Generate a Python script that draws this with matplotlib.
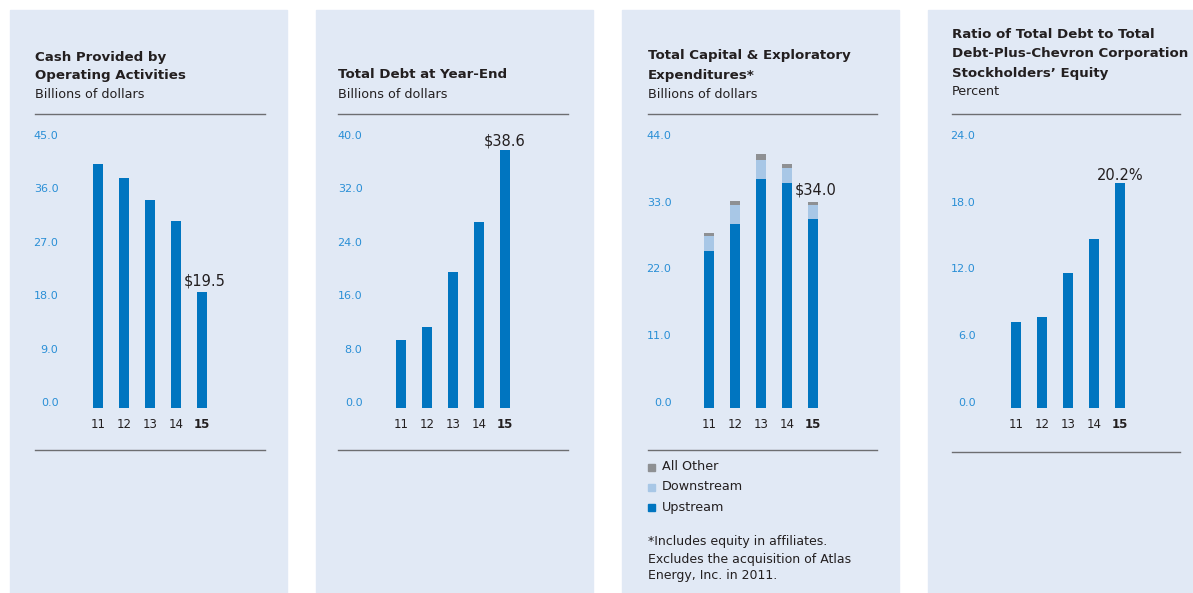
import matplotlib.pyplot as plt
from matplotlib.patches import Rectangle
from matplotlib.lines import Line2D

years = ['11', '12', '13', '14', '15']
cash_ops = [41.1, 38.8, 35.0, 31.5, 19.5]
total_debt = [10.2, 12.2, 20.4, 27.8, 38.6]
upstream = [25.8, 30.3, 37.8, 37.0, 31.1]
downstream = [2.6, 3.2, 3.1, 2.5, 2.3]
all_other = [0.5, 0.6, 0.9, 0.7, 0.6]
debt_ratio = [7.7, 8.2, 12.1, 15.2, 20.2]

W, H = 1193, 593
BG = '#e1e9f5'
BLUE = '#0075c0'
LIGHT = '#a8c7e6'
GREY = '#8e9093'
TICK = '#2a8fd6'
DARK = '#231f20'
RULE = '#6d6e71'
FONT = 'DejaVu Sans'

fig = plt.figure(figsize=(W / 100, H / 100), dpi=100)


def fx(x):
    return x / W


def fy(y):
    return 1 - y / H


def panel(x0, x1):
    fig.patches.append(Rectangle((fx(x0), 0), fx(x1) - fx(x0), fy(10),
                                 transform=fig.transFigure, color=BG, zorder=0))


def rule(x0, x1, y):
    fig.add_artist(Line2D([fx(x0), fx(x1)], [fy(y), fy(y)], color=RULE, lw=1.0))


def text(x, y, s, size=9.6, weight='normal', **kw):
    fig.text(fx(x), fy(y), s, fontsize=size, fontweight=weight, color=DARK,
             family=FONT, va='center', **kw)


def make_ax(first_bar, label_right, ymax, ticks):
    # bars are 26 px apart, baseline at y=408, top tick value at y=141
    left = label_right + 4
    right = first_bar + 26 * 4 + 40
    ax = fig.add_axes([fx(left), fy(408), fx(right) - fx(left), fy(141) - fy(408)])
    ax.set_zorder(2)
    ax.set_xlim((left - first_bar) / 26, (right - first_bar) / 26)
    ax.set_ylim(0, ymax)
    ax.patch.set_alpha(0)
    for s in ax.spines.values():
        s.set_visible(False)
    ax.set_yticks(ticks, [f'{t:.1f}' for t in ticks])
    ax.set_xticks(range(len(years)), years)
    ax.tick_params(length=0)
    ax.tick_params(axis='y', pad=4, labelsize=8, labelcolor=TICK)
    ax.tick_params(axis='x', pad=7.5, labelsize=8.5, labelcolor=DARK)
    for lab in ax.get_yticklabels():
        lab.set_verticalalignment('bottom')
        lab.set_family(FONT)
    for lab in ax.get_xticklabels():
        lab.set_family(FONT)
    ax.get_xticklabels()[-1].set_fontweight('bold')
    return ax


def label_top(ax, y, s, dx, dy):
    ax.annotate(s, (4, y), xytext=(dx, dy), textcoords='offset points',
                ha='center', va='bottom', fontsize=10.5, color=DARK, family=FONT)


bw = 10 / 26
xs = range(len(years))
TS = 9.6   # title size
SS = 9.2   # subtitle size

# panel 1
panel(10, 287)
text(35, 57, 'Cash Provided by', size=TS, weight='bold')
text(35, 75, 'Operating Activities', size=TS, weight='bold')
text(35, 94, 'Billions of dollars', size=SS)
rule(35, 265, 114)
rule(35, 265, 450)
ax1 = make_ax(98, 60, 45, [0, 9, 18, 27, 36, 45])
ax1.bar(xs, cash_ops, width=bw, color=BLUE)
label_top(ax1, cash_ops[-1], f'${cash_ops[-1]:.1f}', 2, 2.5)

# panel 2
panel(316, 593)
text(338, 75, 'Total Debt at Year-End', size=TS, weight='bold')
text(338, 94, 'Billions of dollars', size=SS)
rule(338, 568, 114)
rule(338, 568, 450)
ax2 = make_ax(401, 364, 40, [0, 8, 16, 24, 32, 40])
ax2.bar(xs, total_debt, width=bw, color=BLUE)
label_top(ax2, total_debt[-1], f'${total_debt[-1]:.1f}', 0, 1.5)

# panel 3
panel(622, 899)
text(648, 56, 'Total Capital & Exploratory', size=TS, weight='bold')
text(648, 75, 'Expenditures*', size=TS, weight='bold')
text(648, 94, 'Billions of dollars', size=SS)
rule(648, 877, 114)
rule(648, 877, 450)
ax3 = make_ax(709, 673, 44, [0, 11, 22, 33, 44])
ax3.bar(xs, upstream, width=bw, color=BLUE)
mid = [u + d for u, d in zip(upstream, downstream)]
ax3.bar(xs, downstream, width=bw, bottom=upstream, color=LIGHT)
ax3.bar(xs, all_other, width=bw, bottom=mid, color=GREY)
total15 = mid[-1] + all_other[-1]
label_top(ax3, total15, f'${total15:.1f}', 2, 3)
for i, (lab, col) in enumerate([('All Other', GREY), ('Downstream', LIGHT),
                                ('Upstream', BLUE)]):
    y = 467 + 20 * i
    fig.patches.append(Rectangle((fx(648), fy(y + 3.5)), fx(7), 7 / H,
                                 transform=fig.transFigure, color=col))
    text(662, y, lab, size=SS)
text(648, 541, '*Includes equity in affiliates.', size=9.0)
text(648, 559, 'Excludes the acquisition of Atlas', size=9.0)
text(648, 576, 'Energy, Inc. in 2011.', size=9.0)

# panel 4
panel(928, 1193)
text(952, 35, 'Ratio of Total Debt to Total', size=TS, weight='bold')
text(952, 54, 'Debt-Plus-Chevron Corporation', size=TS, weight='bold')
text(952, 73, 'Stockholders\u2019 Equity', size=TS, weight='bold')
text(952, 92, 'Percent', size=SS)
rule(952, 1180, 114)
rule(952, 1180, 452)
ax4 = make_ax(1016, 977, 24, [0, 6, 12, 18, 24])
ax4.bar(xs, debt_ratio, width=bw, color=BLUE)
label_top(ax4, debt_ratio[-1], f'{debt_ratio[-1]:.1f}%', 0, 0.5)

fig.savefig('out.png', dpi=100, facecolor='white')
